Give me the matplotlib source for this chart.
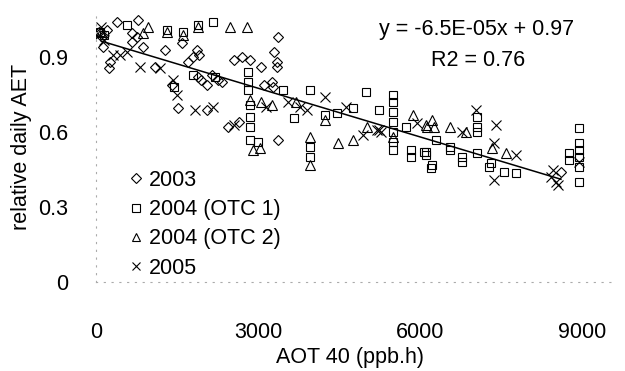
import matplotlib
matplotlib.use("Agg")
import matplotlib.pyplot as plt
import numpy as np

plt.rcParams['font.family'] = ['Liberation Sans', 'DejaVu Sans']

# ---- data ----
d2003_x = [50, 120, 200, 390, 775, 130, 260, 240, 660, 760, 660, 870, 1090, 1270, 1590, 1860,
           1700, 1800, 1900, 1880, 1950, 2050, 2150, 2250, 2330, 2550, 2700, 2850, 1400, 1520,
           2050, 2450, 2650, 3360, 3300, 3350, 3050, 3350, 3100, 3250, 3270, 3360, 8600]
d2003_y = [1.00, 0.98, 1.01, 1.04, 1.05, 0.94, 0.88, 0.855, 0.995, 0.98, 0.96, 0.94, 0.86, 0.93, 0.955, 0.93,
           0.88, 0.90, 0.91, 0.82, 0.81, 0.79, 0.83, 0.81, 0.80, 0.89, 0.90, 0.89, 0.79, 0.695,
           0.69, 0.62, 0.64, 0.98, 0.92, 0.88, 0.86, 0.86, 0.79, 0.80, 0.78, 0.57, 0.44]

otc1_x = [80, 150, 570, 1310, 1600, 1880, 2160, 1800, 2200, 1450, 2820, 2820, 2820, 2850, 2850, 2850,
          2850, 3000, 3450, 3670, 3950, 3950, 3950, 4230, 4450, 4750, 5000, 5240, 5490, 5490, 5490,
          5490, 5490, 5490, 5490, 5740, 5830, 5830, 6110, 6110, 6200, 6220, 6290, 6540, 6540, 6070,
          6770, 6770, 7050, 7050, 7050, 7050, 7310, 7270, 7550, 7770, 8930, 8930, 8930, 8930, 8930,
          8930, 8750, 8750]
otc1_y = [1.00, 0.99, 1.03, 1.01, 1.00, 1.03, 1.04, 0.83, 0.82, 0.78, 0.84, 0.80, 0.77, 0.71, 0.66, 0.62,
          0.57, 0.56, 0.77, 0.655, 0.77, 0.54, 0.50, 0.67, 0.675, 0.695, 0.76, 0.69, 0.75, 0.72, 0.68,
          0.64, 0.60, 0.56, 0.53, 0.62, 0.53, 0.50, 0.52, 0.51, 0.455, 0.47, 0.57, 0.54, 0.53, 0.52,
          0.50, 0.48, 0.66, 0.62, 0.60, 0.515, 0.475, 0.46, 0.44, 0.435, 0.615, 0.555, 0.53, 0.50, 0.46,
          0.40, 0.49, 0.515]

otc2_x = [100, 960, 870, 1310, 1600, 1880, 2470, 2790, 2850, 2900, 3050, 3250, 3700, 4230, 3950, 3950,
          3030, 4470, 4750, 5020, 5860, 5490, 6130, 6220, 6100, 6250, 6540, 6850, 7330, 7590]
otc2_y = [1.00, 1.02, 0.995, 1.00, 0.99, 1.02, 1.02, 1.02, 0.73, 0.53, 0.72, 0.71, 0.72, 0.65, 0.58, 0.47,
          0.535, 0.555, 0.57, 0.62, 0.67, 0.58, 0.62, 0.65, 0.63, 0.62, 0.62, 0.60, 0.535, 0.515]

d2005_x = [50, 150, 100, 310, 450, 570, 810, 1180, 1420, 1490, 1830, 2160, 2550, 3150, 3550, 3780,
           3910, 4230, 4630, 4930, 5200, 5240, 5280, 5930, 6770, 7030, 7400, 7370, 7770, 7370, 8420,
           8500, 8550, 8450, 8930]
d2005_y = [0.99, 0.97, 1.02, 0.91, 0.91, 0.92, 0.86, 0.855, 0.81, 0.75, 0.69, 0.70, 0.63, 0.70, 0.72, 0.70,
           0.69, 0.74, 0.70, 0.59, 0.61, 0.61, 0.60, 0.635, 0.60, 0.69, 0.63, 0.555, 0.51, 0.41, 0.42,
           0.40, 0.39, 0.45, 0.48]

slope = -6.5e-05
intercept = 0.97
fit_range = [100, 8600]

series_labels = ['2003', '2004 (OTC 1)', '2004 (OTC 2)', '2005']
x_ticks = [0, 3000, 6000, 9000]
x_ticklabels = ['0', '3000', '6000', '9000']
y_ticks = [0, 0.3, 0.6, 0.9]
y_ticklabels = ['0', '0.3', '0.6', '0.9']

# ---- figure ----
W, H = 625, 371
fig = plt.figure(figsize=(W / 100, H / 100), dpi=100)
ax = fig.add_axes([96 / W, 1 - 282 / H, (615 - 96) / W, (282 - 12) / H])

FS = 15.5
ms = 6
mk = dict(linestyle='none', markerfacecolor='none', markeredgecolor='black', markeredgewidth=0.8)
ax.plot(d2003_x, d2003_y, marker='D', markersize=ms - 0.5, label=series_labels[0], **mk)
ax.plot(otc1_x, otc1_y, marker='s', markersize=ms, label=series_labels[1], **mk)
ax.plot(otc2_x, otc2_y, marker='^', markersize=ms + 0.5, label=series_labels[2], **mk)
ax.plot(d2005_x, d2005_y, marker='x', markersize=ms + 1, label=series_labels[3], **mk)

fx = np.array(fit_range, dtype=float)
ax.plot(fx, slope * fx + intercept, color='black', linewidth=1.1)

ax.set_xlim(0, 9600)
ax.set_ylim(0, 1.08)
ax.set_xticks(x_ticks)
ax.set_xticklabels(x_ticklabels)
ax.set_yticks(y_ticks)
ax.set_yticklabels(y_ticklabels)
ax.tick_params(axis='both', length=0, labelsize=FS)
ax.tick_params(axis='x', pad=29)
ax.tick_params(axis='y', pad=20)

for s in ['top', 'right']:
    ax.spines[s].set_visible(False)
for s in ['left', 'bottom']:
    ax.spines[s].set_color('#aaaaaa')
    ax.spines[s].set_linestyle((0, (1, 6)))
    ax.spines[s].set_linewidth(0.8)

ax.set_xlabel('AOT 40 (ppb.h)', fontsize=FS)
ax.xaxis.set_label_coords(0.49, -0.24)
ax.set_ylabel('relative daily AET', fontsize=FS)
ax.yaxis.set_label_coords(-0.123, 0.5)

fig.text(477 / W, 1 - 30 / H, 'y = -6.5E-05x + 0.97', ha='center', va='center', fontsize=FS)
fig.text(478 / W, 1 - 60 / H, 'R2 = 0.76', ha='center', va='center', fontsize=FS)

leg = ax.legend(loc='upper left', bbox_to_anchor=(131 / W, 1 - 170 / H),
                bbox_transform=fig.transFigure, frameon=False, fontsize=FS,
                handlelength=0.5, handletextpad=0.35, labelspacing=0.38, borderpad=0,
                borderaxespad=0, markerscale=0.85)

fig.savefig('out.png', dpi=100)
